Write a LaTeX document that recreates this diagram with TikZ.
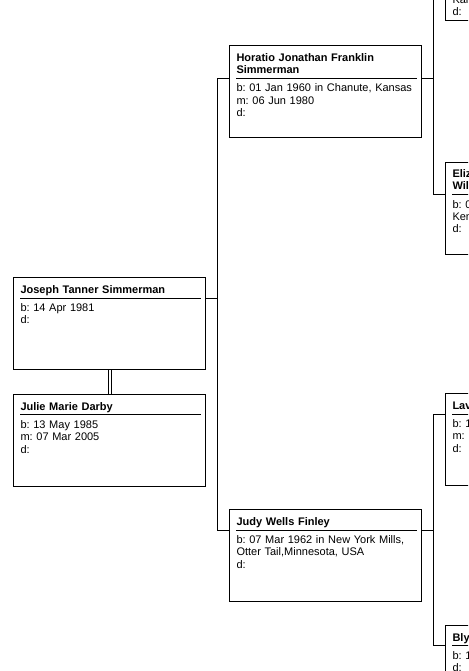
\documentclass[tikz,border=0pt]{standalone}
\usepackage{fontspec}
\setmainfont{Liberation Sans}
\usepackage{tikz}
\usetikzlibrary{calc}

\begin{document}
\begin{tikzpicture}[
  x=1pt, y=-1pt,
  personbox/.style={rectangle, draw=black, line width=0.9pt, fill=white, minimum width=192pt, minimum height=92pt, inner sep=0pt, anchor=north west},
  persname/.style={anchor=base west, text width=180pt, align=left, inner sep=0pt, font=\fontsize{11}{12.3}\selectfont\frenchspacing\bfseries, execute at end node={\rule[-4.5pt]{0pt}{0pt}}},
  persinfo/.style={anchor=base west, text width=180pt, align=left, inner sep=0pt, font=\fontsize{11}{12.3}\selectfont\frenchspacing},
  underline/.style={line width=0.9pt},
  link/.style={line width=0.9pt},
  spouse/.style={double, double distance=2.4pt, line width=0.8pt}
]
\useasboundingbox (0,0) rectangle (468,671);
\clip (0,0) rectangle (468,671);

% Joseph
\node[personbox] (joseph) at (13.3,277.3) {};
\node[persname] (josephname) at ($(joseph.north west)+(7,16)$) {Joseph Tanner Simmerman};
\draw[underline] (josephname.south west) -- (josephname.south east);
\node[persinfo] (josephinfo) at ($(josephname.south west)+(0,13.5)$) {b: 14 Apr 1981\\d:};

% Julie
\node[personbox] (julie) at ($(joseph.south west)+(0,24)$) {};
\node[persname] (juliename) at ($(julie.north west)+(7,16)$) {Julie Marie Darby};
\draw[underline] (juliename.south west) -- (juliename.south east);
\node[persinfo] (julieinfo) at ($(juliename.south west)+(0,13.5)$) {b: 13 May 1985\\m: 07 Mar 2005\\d:};

% Horatio
\node[personbox] (horatio) at (229.3,45.3) {};
\node[persname] (horationame) at ($(horatio.north west)+(7,16)$) {Horatio Jonathan Franklin\\Simmerman};
\draw[underline] (horationame.south west) -- (horationame.south east);
\node[persinfo] (horatioinfo) at ($(horationame.south west)+(0,13.5)$) {b: 01 Jan 1960 in Chanute, Kansas\\m: 06 Jun 1980\\d:};

% Judy
\node[personbox] (judy) at (229.3,509.3) {};
\node[persname] (judyname) at ($(judy.north west)+(7,16)$) {Judy Wells Finley};
\draw[underline] (judyname.south west) -- (judyname.south east);
\node[persinfo] (judyinfo) at ($(judyname.south west)+(0,13.5)$) {b: 07 Mar 1962 in New York Mills,\\Otter Tail,Minnesota, USA\\d:};

% Horatio's parents
\node[personbox, anchor=south west] (topfather) at (445.3,21) {};
\node[persinfo] (topfatherinfo) at ($(topfather.south west)+(7,-17.6)$) {Kansas\\d:};

\node[personbox] (eliza) at (445.3,161.7) {};
\node[persname] (elizaname) at ($(eliza.north west)+(7,16)$) {Eliza\\Wil};
\draw[underline] (elizaname.south west) -- (elizaname.south east);
\node[persinfo] (elizainfo) at ($(elizaname.south west)+(0,13.5)$) {b: 0\\Ken\\d:};

% Judy's parents
\node[personbox] (lav) at (445.3,393.3) {};
\node[persname] (lavname) at ($(lav.north west)+(7,16)$) {Lav};
\draw[underline] (lavname.south west) -- (lavname.south east);
\node[persinfo] (lavinfo) at ($(lavname.south west)+(0,13.5)$) {b: 1\\m:\\d:};

\node[personbox] (bly) at (445.3,625) {};
\node[persname] (blyname) at ($(bly.north west)+(7,16)$) {Bly};
\draw[underline] (blyname.south west) -- (blyname.south east);
\node[persinfo] (blyinfo) at ($(blyname.south west)+(0,13.5)$) {b: 1\\d:};

% Links
\draw[spouse] (joseph.south) -- (julie.north);

\coordinate (fork1) at ($(horatio.north west)+(-12,0)$);
\draw[link] (josephname.south -| joseph.east) -- (josephname.south -| fork1);
\draw[link] (horatio.west |- horationame.south) -| (fork1 |- judyname.south) -- (judy.west |- judyname.south);

\coordinate (fork2) at ($(eliza.north west)+(-12,0)$);
\draw[link] (horationame.south -| horatio.east) -- (horationame.south -| fork2);
\draw[link] (topfather.north west -| fork2) -- (fork2 |- elizaname.south) -- (eliza.west |- elizaname.south);
\draw[link] (judyname.south -| judy.east) -- (judyname.south -| fork2);
\draw[link] (lav.west |- lavname.south) -| (fork2 |- blyname.south) -- (bly.west |- blyname.south);

\end{tikzpicture}
\end{document}
